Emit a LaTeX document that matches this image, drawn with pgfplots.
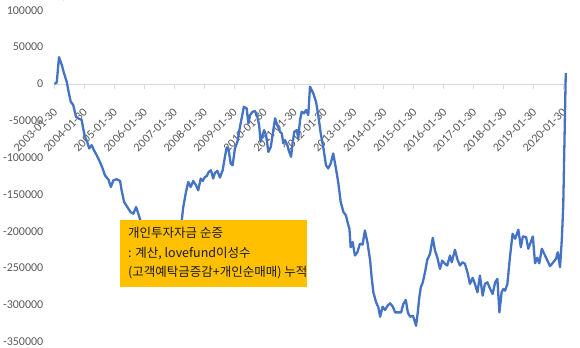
\documentclass[border=0pt]{standalone}
\usepackage{pgfplots}
\pgfplotsset{compat=1.18}
\usepackage{pgfplotstable}
\usepackage{fontspec}
\setmainfont{Carlito}
\newfontfamily\kr{Noto Sans CJK KR}
\definecolor{lineblue}{HTML}{4472C4}
\definecolor{boxorange}{HTML}{FFC000}
\definecolor{ticktext}{HTML}{595959}
\definecolor{axisgray}{HTML}{D9D9D9}

% x = months since 2003-01, y = cumulative net inflow
\pgfplotstableread{
x y
0 0
0.9 2000
1.8 36400
2.9 25900
3.8 14600
4.9 3100
5.5 -8200
6.5 -24100
7.5 -28600
8.6 -44500
9.5 -46700
10.9 -49000
11.5 -60400
12.2 -71800
13.1 -78600
13.9 -87600
14.9 -83100
15.8 -89900
16.9 -96700
18.2 -105900
19.3 -114800
20.2 -124000
21.6 -129800
22.6 -139900
23.6 -130800
24.9 -129400
26.3 -131700
26.9 -144400
27.9 -160400
29.2 -167200
30.5 -174000
31.6 -176200
32.7 -167200
33.6 -176200
34.5 -186200
35.5 -188000
36 -192000
38 -200000
40 -210000
42 -222000
44 -230000
46 -238000
48 -235000
50 -215000
51.0 -185300
51.6 -167200
52.7 -146700
53.6 -133100
54.6 -139900
55.6 -131700
56.7 -137600
57.6 -144400
58.6 -128500
59.4 -131700
60.3 -126300
61.0 -125300
61.8 -119500
62.7 -117200
63.6 -128500
64.3 -120800
65.3 -118100
66.3 -127100
67.4 -117200
68.3 -99000
69.0 -86200
69.7 -87600
70.6 -108000
71.4 -110400
72.3 -87600
73.3 -78600
74.1 -62700
75.0 -46700
75.9 -31000
77.0 -33100
77.7 -53500
78.4 -42200
79.4 -37700
80.4 -36800
81.3 -44500
82.0 -55900
82.6 -78600
83.0 -74000
84.0 -62700
84.8 -69500
85.7 -92200
86.7 -85400
87.5 -67200
88.4 -46700
89.3 -55900
90.4 -65000
91.1 -67200
91.7 -80800
92.4 -76300
93.3 -83100
94.1 -92200
94.8 -98900
95.5 -78600
96.1 -65000
97.1 -62700
97.7 -74000
98.4 -49000
99.1 -37700
100.0 -39900
100.8 -35400
101.7 -42200
102.4 -3700
103.7 -12700
104.8 -24100
105.7 -42200
106.7 -67200
107.7 -85400
108.8 -110400
109.7 -114800
110.7 -108000
111.7 -94400
112.8 -114800
113.7 -133100
114.7 -160400
115.8 -174000
116.8 -178500
117.6 -189800
118.2 -196600
118.7 -221700
119.5 -214800
120.4 -232900
121.4 -228500
122.4 -217000
123.5 -218000
124.4 -198900
125.4 -214800
126.5 -239700
127.1 -262500
127.8 -283000
128.9 -296600
129.8 -303400
130.5 -316100
131.5 -302400
132.5 -307000
133.5 -301100
134.5 -297900
135.6 -302400
136.5 -310200
137.8 -310200
138.9 -310200
139.8 -298800
140.8 -293300
141.6 -310200
142.5 -316100
143.6 -314700
144.1 -319200
144.9 -328300
145.6 -310200
146.2 -289800
146.8 -276200
147.6 -269400
148.5 -255700
149.4 -238800
150.5 -230700
151.6 -208900
152.5 -226200
153.4 -235300
154.5 -251100
155.4 -239800
156.5 -244300
157.4 -246600
158.5 -233000
159.2 -242100
160.5 -225200
161.4 -237500
162.5 -246600
163.6 -242100
164.5 -244300
165.5 -255700
166.5 -271500
167.6 -263300
168.5 -271500
169.5 -283000
170.5 -260200
171.6 -287500
172.5 -271500
173.5 -269400
174.6 -278300
175.6 -285200
176.6 -269400
177.5 -264700
178.3 -310200
179.2 -283000
179.9 -278300
180.6 -280700
181.5 -271500
182.6 -233000
183.6 -203400
184.6 -210200
185.9 -198000
186.9 -221700
187.7 -207100
189.0 -208000
189.9 -223800
191.7 -207100
192.6 -243500
193.5 -236100
194.3 -243500
195.3 -223800
196.6 -233000
198.6 -247500
199.9 -242100
201.0 -237500
201.7 -228500
202.6 -248900
203.3 -212500
203.9 -165000
204.9 14600
}\netflow

\begin{document}
\begin{tikzpicture}
\begin{axis}[
  name=ax,
  scale only axis,
  width=511.5bp, height=331.4bp,
  xmin=0, xmax=205, ymin=-350000, ymax=100000,
  axis x line=middle,
  axis y line=left,
  hide obscured x ticks=false,
  hide obscured y ticks=false,
  every inner x axis line/.append style={-},
  x axis line style={draw=axisgray, line width=0.75bp, -},
  y axis line style={draw=none},
  xtick={0,12,...,204},
  xticklabels={2003-01-30,2004-01-30,2005-01-30,2006-01-30,2007-01-30,2008-01-30,2009-01-30,2010-01-30,2011-01-30,2012-01-30,2013-01-30,2014-01-30,2015-01-30,2016-01-30,2017-01-30,2018-01-30,2019-01-30,2020-01-30},
  xtick style={draw=axisgray, line width=0.75bp},
  tick align=outside,
  major tick length=5bp,
  ytick={-350000,-300000,-250000,-200000,-150000,-100000,-50000,0,50000,100000},
  yticklabels={-350000,-300000,-250000,-200000,-150000,-100000,-50000,0,50000,100000},
  ytick style={draw=none},
  yticklabel style={font=\fontsize{12bp}{14bp}\selectfont, text=ticktext, anchor=east, inner sep=0pt, xshift=-6bp},
  xticklabel style={font=\fontsize{12bp}{14bp}\selectfont, text=ticktext, inner sep=0pt, xshift=1bp, yshift=-21bp, rotate=45, anchor=east},
  clip=false,
]
\addplot[lineblue, line width=2.3bp, line join=round, mark=none] table[x=x, y=y] {\netflow};
\fill[boxorange] (axis cs:26.25,-185300) rectangle (axis cs:101.2,-275200);
\node[anchor=west, inner sep=0pt, text height=10bp, text depth=2.5bp, font=\kr\fontsize{12.5bp}{14bp}\selectfont, text=black!90] at (axis cs:29.46,-203000) {개인투자자금 순증};
\node[anchor=west, inner sep=0pt, text height=10bp, text depth=2.5bp, font=\kr\fontsize{12.5bp}{14bp}\selectfont, text=black!90] at (axis cs:29.46,-230300) {: 계산, lovefund이성수};
\node[anchor=west, inner sep=0pt, text height=10bp, text depth=2.5bp, font=\kr\fontsize{12.5bp}{14bp}\selectfont, text=black!90] at (axis cs:29.46,-256100) {(고객예탁금증감+개인순매매) 누적};
\end{axis}
\pgfresetboundingbox
\path[use as bounding box] ([shift={(-54.5bp,-6.3bp)}]ax.south west) rectangle ([shift={(14bp,10.3bp)}]ax.north east);
\end{tikzpicture}
\end{document}
